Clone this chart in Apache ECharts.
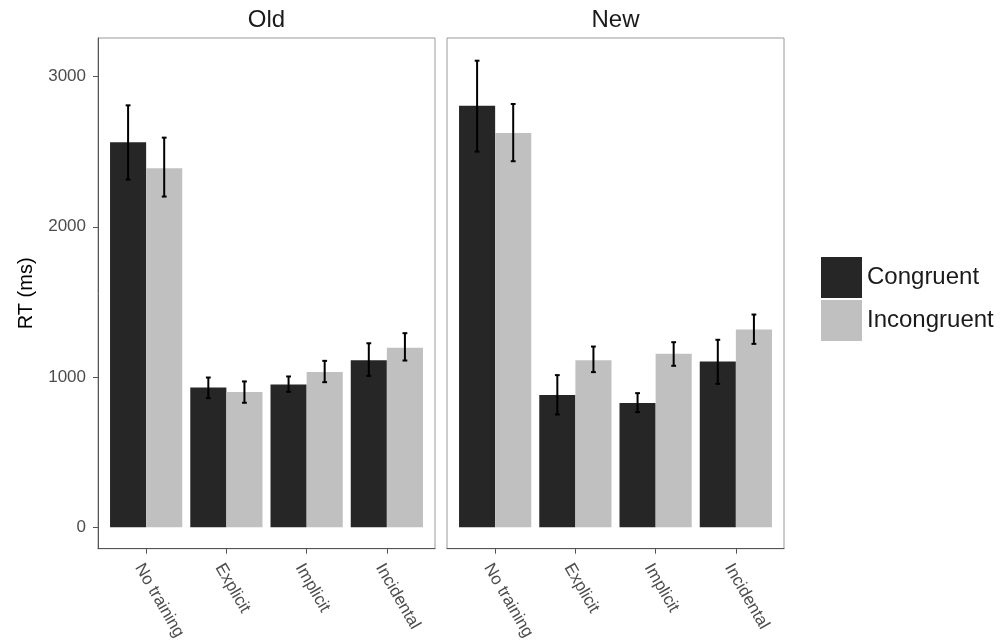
<!DOCTYPE html>
<html>
<head>
<meta charset="utf-8">
<title>RT by training condition</title>
<script src="https://cdn.jsdelivr.net/npm/echarts@6/dist/echarts.min.js"></script>
<style>
  html, body { margin: 0; padding: 0; background: #ffffff; }
  #chart { width: 1001px; height: 643px; }
</style>
</head>
<body>
<div id="chart"></div>
<script>
// Training conditions along x, and the two facet panels
const categories = ['No training', 'Explicit', 'Implicit', 'Incidental'];
const panels = ['Old', 'New'];
const conditions = ['Congruent', 'Incongruent'];
const yTicks = [0, 1000, 2000, 3000];

// Mean RT (ms) and error-bar bounds, panel "Old"
const oldCongruent = [2562, 931, 951, 1112];
const oldCongruentLow = [2314, 860, 902, 1008];
const oldCongruentHigh = [2808, 997, 1004, 1225];
const oldIncongruent = [2389, 900, 1033, 1195];
const oldIncongruentLow = [2201, 829, 966, 1110];
const oldIncongruentHigh = [2593, 971, 1108, 1292];

// Mean RT (ms) and error-bar bounds, panel "New"
const newCongruent = [2806, 880, 827, 1104];
const newCongruentLow = [2500, 751, 767, 955];
const newCongruentHigh = [3105, 1013, 893, 1248];
const newIncongruent = [2624, 1112, 1155, 1316];
const newIncongruentLow = [2436, 1033, 1075, 1221];
const newIncongruentHigh = [2817, 1203, 1232, 1416];

const colors = { Congruent: '#262626', Incongruent: '#c0c0c0' };
const BAR_HALF = 0.225;   // half of one dodged bar, in category units
const CAP_HALF = 0.03;    // half width of the error-bar caps

const panelData = [
  {
    Congruent: [oldCongruent, oldCongruentLow, oldCongruentHigh],
    Incongruent: [oldIncongruent, oldIncongruentLow, oldIncongruentHigh]
  },
  {
    Congruent: [newCongruent, newCongruentLow, newCongruentHigh],
    Incongruent: [newIncongruent, newIncongruentLow, newIncongruentHigh]
  }
];

function rows(triple) {
  const [mean, low, high] = triple;
  return categories.map((c, i) => [i + 1, mean[i], low[i], high[i]]);
}

function barRenderer(offset) {
  return function (params, api) {
    const x = api.value(0) + offset;
    const top = api.coord([x - BAR_HALF, api.value(1)]);
    const base = api.coord([x + BAR_HALF, 0]);
    return {
      type: 'rect',
      shape: { x: top[0], y: top[1], width: base[0] - top[0], height: base[1] - top[1] },
      style: { fill: api.visual('color') }
    };
  };
}

function errorRenderer(offset) {
  return function (params, api) {
    const x = api.value(0) + offset;
    const lo = api.coord([x, api.value(2)]);
    const hi = api.coord([x, api.value(3)]);
    const capL = api.coord([x - CAP_HALF, api.value(2)])[0];
    const capR = api.coord([x + CAP_HALF, api.value(2)])[0];
    const st = { stroke: '#000000', lineWidth: 2 };
    return {
      type: 'group',
      children: [
        { type: 'line', shape: { x1: lo[0], y1: lo[1], x2: hi[0], y2: hi[1] }, style: st },
        { type: 'line', shape: { x1: capL, y1: lo[1], x2: capR, y2: lo[1] }, style: st },
        { type: 'line', shape: { x1: capL, y1: hi[1], x2: capR, y2: hi[1] }, style: st }
      ]
    };
  };
}

const FONT = '"Liberation Sans", Arial, Helvetica, sans-serif';
const gridLefts = [98, 447];
const PANEL_W = 337;

const grids = gridLefts.map(l => ({
  left: l, top: 38, width: PANEL_W, height: 511,
  show: true, borderColor: '#9a9a9a', borderWidth: 1, backgroundColor: 'transparent'
}));

const xAxes = panels.map((p, i) => ({
  type: 'value', gridIndex: i, min: 0.4, max: 4.6,
  splitLine: { show: false },
  axisLine: { show: true, onZero: false, lineStyle: { color: '#555555', width: 1 } },
  axisTick: { show: true, length: 5, customValues: [1, 2, 3, 4], lineStyle: { color: '#555555' } },
  axisLabel: {
    customValues: [1, 2, 3, 4],
    rotate: -60, margin: 12, verticalAlign: 'top',
    fontFamily: FONT, fontSize: 17, color: '#4d4d4d',
    formatter: v => categories[Math.round(v) - 1]
  }
}));

const yAxes = panels.map((p, i) => ({
  type: 'value', gridIndex: i, min: -142, max: 3256,
  splitLine: { show: false },
  name: i === 0 ? 'RT (ms)' : '',
  nameLocation: 'middle', nameGap: 62,
  nameTextStyle: { fontFamily: FONT, fontSize: 20, color: '#000000' },
  axisLine: { show: i === 0, onZero: false, lineStyle: { color: '#555555', width: 1 } },
  axisTick: { show: i === 0, length: 5, customValues: yTicks, lineStyle: { color: '#555555' } },
  axisLabel: {
    show: i === 0, customValues: yTicks, margin: 12,
    fontFamily: FONT, fontSize: 17, color: '#4d4d4d',
    formatter: v => String(v)
  }
}));

const series = [];
panels.forEach((p, i) => {
  conditions.forEach((cond, k) => {
    const offset = k === 0 ? -BAR_HALF : BAR_HALF;
    const data = rows(panelData[i][cond]);
    series.push({
      name: cond, type: 'custom', xAxisIndex: i, yAxisIndex: i,
      itemStyle: { color: colors[cond] },
      encode: { x: 0, y: 1 },
      renderItem: barRenderer(offset),
      data: data, z: 2
    });
    series.push({
      name: cond + ' error', type: 'custom', xAxisIndex: i, yAxisIndex: i,
      itemStyle: { color: '#000000' },
      encode: { x: 0, y: [2, 3] },
      renderItem: errorRenderer(offset),
      data: data, z: 3
    });
  });
});

const chart = echarts.init(document.getElementById('chart'), null, { renderer: 'canvas' });
chart.setOption({
  animation: false,
  backgroundColor: '#ffffff',
  grid: grids,
  xAxis: xAxes,
  yAxis: yAxes,
  legend: {
    orient: 'vertical', left: 821, top: 257, padding: 0,
    itemWidth: 41, itemHeight: 41, itemGap: 2,
    selectedMode: false,
    textStyle: { fontFamily: FONT, fontSize: 24, color: '#1a1a1a' },
    data: conditions.map(c => ({ name: c, icon: 'rect' }))
  },
  graphic: panels.map((p, i) => ({
    type: 'text',
    x: gridLefts[i] + PANEL_W / 2, y: 20,
    style: {
      text: p, align: 'center', verticalAlign: 'middle',
      font: '24px ' + FONT, fill: '#1a1a1a'
    }
  })),
  series: series
});
</script>
</body>
</html>
